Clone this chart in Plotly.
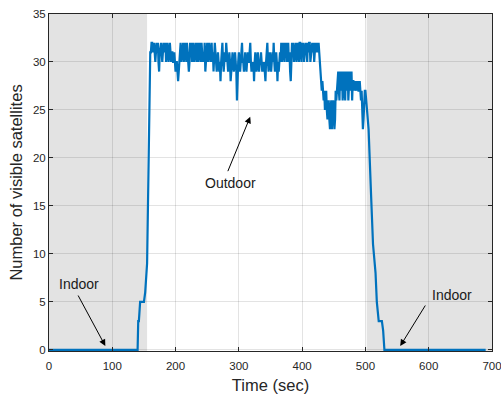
import plotly.graph_objects as go

# ---- data ----
# indoor start + rise (sec, satellites)
t_rise = [0, 140, 141, 142, 144, 150, 152, 155, 160]
v_rise = [0, 0, 3, 3, 5, 5, 6, 9, 31]

# outdoor plateau, one sample per second starting at 161 s
plateau_start = 161
v_plateau = [
    31, 32, 32, 31, 32, 32, 31, 30, 31, 32, 31, 32, 30, 29, 31, 32, 32, 31, 30, 31,  # 161-180
    32, 31, 32, 32, 30, 31, 32, 31, 30, 31, 32, 31, 30, 31, 31, 30, 30, 31, 30, 29,  # 181-200
    30, 30, 29, 28, 29, 30, 31, 32, 30, 31, 32, 32, 30, 31, 32, 31, 30, 32, 31, 30,  # 201-220
    29, 30, 32, 31, 32, 30, 31, 32, 30, 31, 32, 32, 30, 31, 32, 30, 31, 32, 31, 30,  # 221-240
    32, 31, 30, 31, 30, 32, 29, 30, 31, 32, 30, 31, 32, 31, 30, 31, 32, 30, 31, 29,  # 241-260
    30, 32, 31, 30, 29, 30, 31, 30, 29, 30, 28, 30, 31, 32, 30, 29, 30, 31, 30, 32,  # 261-280
    31, 30, 29, 30, 31, 30, 28, 29, 30, 31, 30, 29, 30, 31, 30, 29, 26, 29, 30, 31,  # 281-300
    30, 29, 30, 31, 32, 30, 30, 29, 30, 31, 30, 29, 30, 31, 30, 30, 31, 32, 30, 29,  # 301-320
    30, 29, 30, 28, 30, 31, 30, 29, 30, 31, 30, 29, 30, 30, 31, 30, 29, 30, 29, 30,  # 321-340
    29, 28, 30, 31, 32, 30, 29, 30, 31, 30, 29, 30, 31, 30, 32, 30, 29, 30, 31, 30,  # 341-360
    28, 30, 29, 30, 31, 30, 32, 30, 31, 32, 31, 30, 32, 31, 32, 30, 31, 32, 30, 31,  # 361-380
    29, 28, 30, 32, 31, 32, 30, 31, 32, 32, 30, 31, 32, 31, 30, 32, 32, 31, 30, 32,  # 381-400
    31, 32, 30, 31, 32, 32, 31, 30, 32, 31, 32, 32, 30, 31, 32, 32, 31, 32, 30, 32,  # 401-420
    32, 31, 32, 32, 31, 32, 31, 30, 30, 28, 27, 28, 27, 26, 27, 25, 26, 27, 25, 24,  # 421-440
    25, 26, 24, 23, 25, 26, 23, 24, 26, 25, 23, 24, 27, 26, 27, 28, 29, 27, 26, 29,  # 441-460
    28, 27, 29, 26, 27, 29, 28, 26, 29, 27, 28, 29, 26, 27, 29, 28, 27, 29, 26, 28,  # 461-480
    28, 27, 28, 27, 28, 28, 27, 28, 27, 27, 28, 27, 26, 27, 25, 23, 24, 26, 27, 27,  # 481-500
    26, 26, 25, 24,                                                                  # 501-504
]

# final drop + indoor end
t_fall = [505, 509, 512, 516, 518, 521, 526, 528, 530, 690]
v_fall = [23, 16, 11, 8, 5, 3, 3, 2, 0, 0]

# shaded indoor intervals (sec)
indoor_spans = [(0, 155), (502, 700)]

x_ticks = [0, 100, 200, 300, 400, 500, 600, 700]
y_ticks = [0, 5, 10, 15, 20, 25, 30, 35]

t_plateau = [plateau_start + i for i in range(len(v_plateau))]
t_all = t_rise + t_plateau + t_fall
v_all = v_rise + v_plateau + v_fall

FONT = "Liberation Sans, Arial, sans-serif"
AX = "#262626"

fig = go.Figure()
fig.add_trace(go.Scatter(x=t_all, y=v_all, mode="lines",
                         line=dict(color="#0072BD", width=2.2),
                         showlegend=False, hoverinfo="skip"))

shapes = []
for x0, x1 in indoor_spans:
    shapes.append(dict(type="rect", xref="x", yref="y domain", x0=x0, x1=x1, y0=0, y1=1,
                       fillcolor="#e3e3e3", line=dict(width=0), layer="below"))

ann = []
# arrows (text-less)
ann.append(dict(x=89, y=0.4, xref="x", yref="y", ax=-28, ay=-52, text="",
                showarrow=True, arrowhead=2, arrowsize=1.3, arrowwidth=1, arrowcolor="black"))
ann.append(dict(x=555, y=0.4, xref="x", yref="y", ax=26, ay=-42, text="",
                showarrow=True, arrowhead=2, arrowsize=1.3, arrowwidth=1, arrowcolor="black"))
ann.append(dict(x=318, y=24.3, xref="x", yref="y", ax=-23, ay=56, text="",
                showarrow=True, arrowhead=2, arrowsize=1.3, arrowwidth=1, arrowcolor="black"))
# labels
for tx, ty, s in [(47, 6.85, "Indoor"), (637, 5.7, "Indoor"), (286, 17.4, "Outdoor")]:
    ann.append(dict(x=tx, y=ty, xref="x", yref="y", text=s, showarrow=False,
                    font=dict(family=FONT, size=14, color="#1a1a1a")))

axis_common = dict(
    showline=True, linecolor=AX, linewidth=1, mirror="ticks",
    ticks="inside", ticklen=4, tickcolor=AX, tickwidth=1,
    showgrid=True, gridcolor="rgba(0,0,0,0.11)", gridwidth=1,
    zeroline=False, tickfont=dict(family=FONT, size=11.5, color=AX),
    automargin=False, ticklabeloverflow="allow",
)

fig.update_layout(
    width=501, height=394,
    margin=dict(l=48.5, r=9.4, t=14, b=43),
    paper_bgcolor="white", plot_bgcolor="white",
    shapes=shapes, annotations=ann,
    xaxis=dict(range=[0, 700], tickvals=x_ticks, ticklabelstandoff=4,
               title=dict(text="Time (sec)", font=dict(family=FONT, size=16.5, color=AX), standoff=13),
               **axis_common),
    yaxis=dict(range=[-0.12, 35], tickvals=y_ticks,
               title=dict(text="Number of visible satellites", font=dict(family=FONT, size=16.5, color=AX), standoff=5.5),
               **axis_common),
)

# remove the default page margin so the 501x394 figure fills the window exactly
fig.write_html("out.html",
               config={"displayModeBar": False},
               post_script="document.body.style.margin='0';document.body.style.overflow='hidden';")
